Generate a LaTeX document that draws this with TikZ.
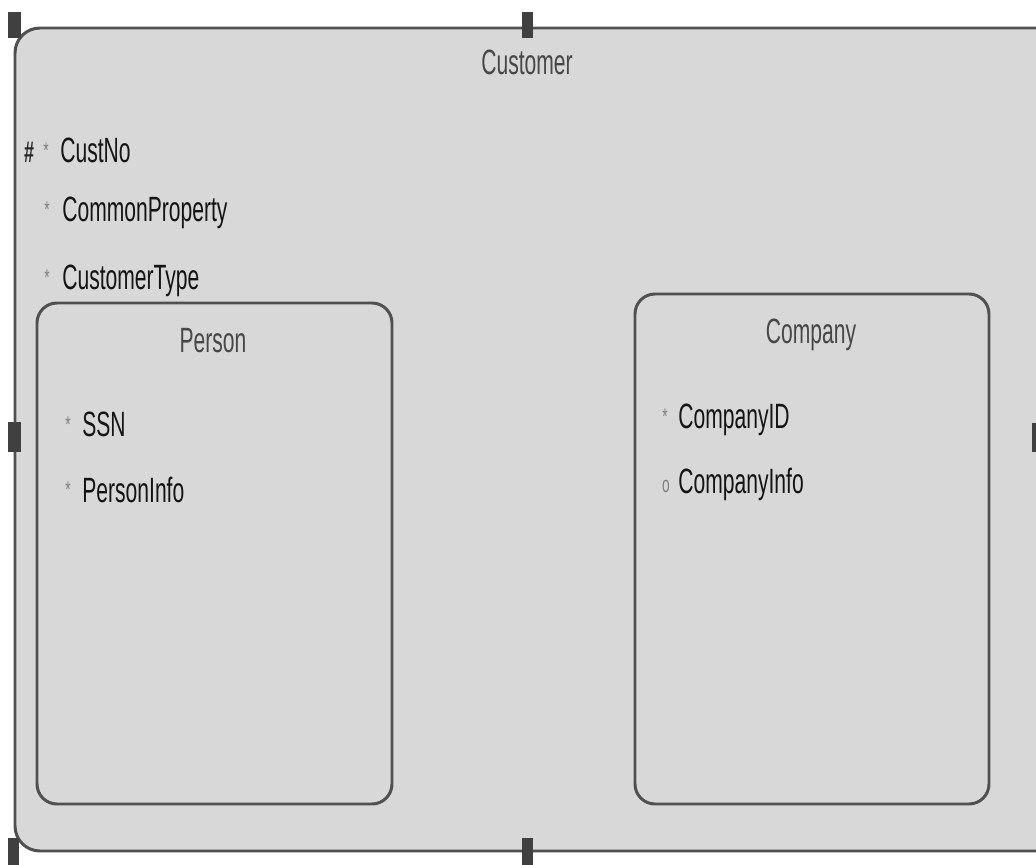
\documentclass[tikz,border=0pt]{standalone}
\usepackage{fontspec}
\setmainfont{Liberation Sans}[FakeStretch=0.6]
\usepackage{xcolor}
\usetikzlibrary{positioning}
\definecolor{boxfill}{HTML}{D8D8D8}
\definecolor{boxline}{HTML}{505050}

\begin{document}
\begin{tikzpicture}[x=0.02cm,y=-0.02cm,
	box/.style={draw=boxline,fill=boxfill,line width=1.7pt},
	attr/.style={anchor=base west,inner sep=0pt,text=black!92,font=\fontsize{20}{24}\selectfont},
	title/.style={anchor=base,inner sep=0pt,text=black!72,font=\fontsize{20}{24}\selectfont},
	flag/.style={anchor=base,inner sep=0pt,text=black!50,font=\fontsize{13}{14}\selectfont},
	handle/.style={fill=black!75}]
	\useasboundingbox (0,0) rectangle (1036,865);
	\fill[white] (0,0) rectangle (1036,865);
	\clip (0,0) rectangle (1036,865);
	\draw[box,rounded corners=0.5cm] (15,28) rectangle (1080,851);
	\draw[box,rounded corners=0.4cm] (37,303) rectangle (392,804);
	\draw[box,rounded corners=0.4cm] (635,294) rectangle (989,804);
	\node[title](Cust) at (527,75) {Customer};
	\node[attr](CN) at (60,163) {CustNo};
	\node[attr](CP) at (62,222) {CommonProperty};
	\node[attr](CT) at (62,290) {CustomerType};
	\node[anchor=base,inner sep=0pt,text=black!85,font=\fontsize{17}{20}\selectfont\bfseries](H) at (29,163) {\#};
	\node[flag](sCN) at (46,159) {*};
	\node[flag](sCP) at (47,218) {*};
	\node[flag](sCT) at (47,286) {*};
	\node[title](P) at (213,353) {Person};
	\node[attr](SSN) at (82,437) {SSN};
	\node[attr](PI) at (82,502) {PersonInfo};
	\node[flag](sSSN) at (68,433) {*};
	\node[flag](sPI) at (68,498) {*};
	\node[title](Co) at (811,343) {Company};
	\node[attr](CID) at (678,428) {CompanyID};
	\node[attr](CI) at (678,493) {CompanyInfo};
	\node[flag](sCID) at (665,424) {*};
	\node[flag](sCI) at (666,492) {o};
	\fill[handle] (8,12) rectangle (21,38);
	\fill[handle] (522,12) rectangle (533,38);
	\fill[handle] (8,422) rectangle (21,452);
	\fill[handle] (1032,423) rectangle (1045,452);
	\fill[handle] (8,838) rectangle (19,870);
	\fill[handle] (522,838) rectangle (533,870);
\end{tikzpicture}
\end{document}
